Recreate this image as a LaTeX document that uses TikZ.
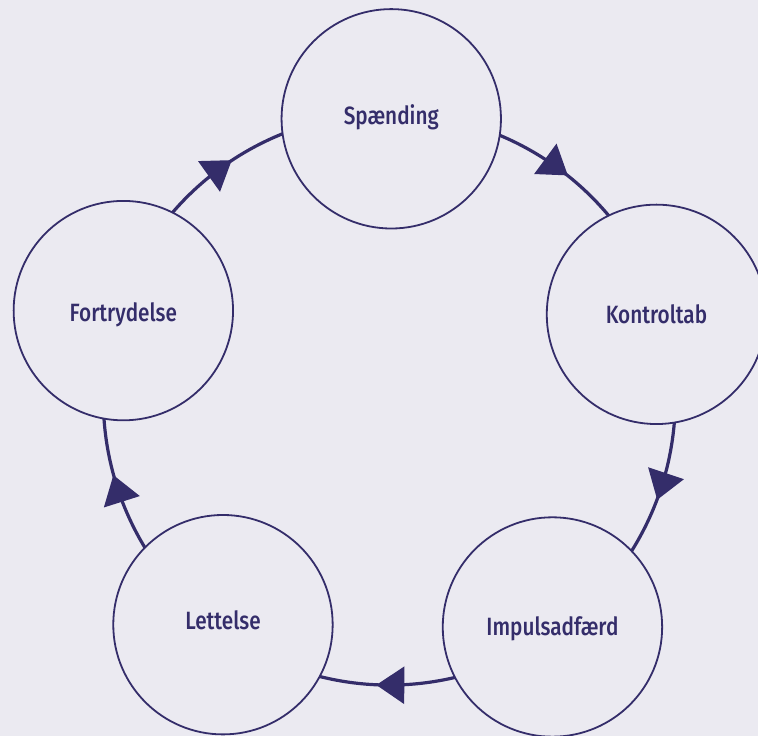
\documentclass[tikz,border=0pt]{standalone}
\usepackage{fontspec}
\newfontfamily\lblfont{Fira Sans}[UprightFont={* Medium}, FakeStretch=0.83]
\usetikzlibrary{arrows.meta,decorations.markings,calc}
\definecolor{bgc}{RGB}{235,234,241}
\definecolor{ink}{RGB}{52,45,106}
\begin{document}
\begin{tikzpicture}[x=1pt,y=1pt,
  stage/.style={circle, draw=ink, line width=1.8pt, minimum size=219.4pt, inner sep=0pt,
    font=\lblfont\fontsize{25}{30}\selectfont, text=ink, text height=17.5pt, text depth=0pt},
  raised/.style={text depth=7pt},
  lowered/.style={text height=20.9pt},
  cyc/.style={draw=ink, line width=3.2pt, postaction={decorate},
    decoration={markings, mark=at position 0.5 with {\arrow[ink,xshift=11pt]{Triangle[length=28pt,width=37pt]}}}}]
\fill[bgc] (0,0) rectangle (758,736);
\useasboundingbox (0,0) rectangle (758,736);
\coordinate (C) at (389.3,336.9);
\node[stage,raised] (S) at ([shift={(C)}]89.6:280.3) {Spænding};
\node[stage] (K) at ([shift={(C)}]17.6:280.3) {Kontroltab};
\node[stage] (I) at ([shift={(C)}]-54.4:280.3) {Impulsadfærd};
\node[stage,raised] (L) at ([shift={(C)}]-126.4:280.3) {Lettelse};
\node[stage,lowered] (F) at ([shift={(C)}]161.6:280.3) {Fortrydelse};
\coordinate (SK) at ([shift={(C)}]67.3:286);
\coordinate (KI) at ([shift={(C)}]-4.7:286);
\coordinate (IL) at ([shift={(C)}]-76.7:286);
\coordinate (LF) at ([shift={(C)}]-148.7:286);
\coordinate (FS) at ([shift={(C)}]139.3:286);
\draw[cyc] (SK) arc[start angle=67.3, end angle=39.9, radius=286];
\draw[cyc] (KI) arc[start angle=-4.7, end angle=-32.1, radius=286];
\draw[cyc] (IL) arc[start angle=-76.7, end angle=-104.1, radius=286];
\draw[cyc] (LF) arc[start angle=-148.7, end angle=-176.1, radius=286];
\draw[cyc] (FS) arc[start angle=139.3, end angle=111.9, radius=286];
\end{tikzpicture}
\end{document}
